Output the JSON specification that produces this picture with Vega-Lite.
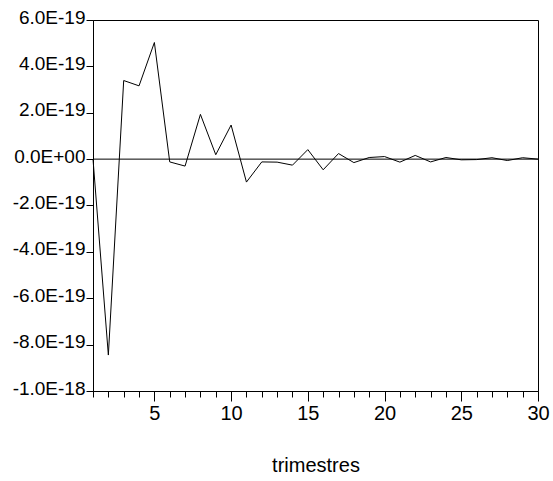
{
  "$schema": "https://vega.github.io/schema/vega-lite/v6.json",
  "width": 445,
  "height": 371,
  "autosize": {"type": "none"},
  "padding": {"left": 93, "top": 20, "right": 15, "bottom": 90},
  "background": "white",
  "config": {
    "view": {"stroke": "black", "strokeWidth": 1},
    "axis": {
      "grid": false,
      "domainColor": "black",
      "domainWidth": 1,
      "tickColor": "black",
      "tickWidth": 1,
      "labelColor": "black",
      "titleColor": "black",
      "labelFont": "Liberation Sans",
      "titleFont": "Liberation Sans"
    }
  },
  "data": {
    "values": [
      {"t": 1, "v": 0},
      {"t": 2, "v": -8.45e-19},
      {"t": 3, "v": 3.39e-19},
      {"t": 4, "v": 3.16e-19},
      {"t": 5, "v": 5.03e-19},
      {"t": 6, "v": -0.12e-19},
      {"t": 7, "v": -0.3e-19},
      {"t": 8, "v": 1.93e-19},
      {"t": 9, "v": 0.19e-19},
      {"t": 10, "v": 1.47e-19},
      {"t": 11, "v": -0.99e-19},
      {"t": 12, "v": -0.12e-19},
      {"t": 13, "v": -0.13e-19},
      {"t": 14, "v": -0.26e-19},
      {"t": 15, "v": 0.41e-19},
      {"t": 16, "v": -0.46e-19},
      {"t": 17, "v": 0.24e-19},
      {"t": 18, "v": -0.15e-19},
      {"t": 19, "v": 0.07e-19},
      {"t": 20, "v": 0.11e-19},
      {"t": 21, "v": -0.13e-19},
      {"t": 22, "v": 0.16e-19},
      {"t": 23, "v": -0.12e-19},
      {"t": 24, "v": 0.07e-19},
      {"t": 25, "v": -0.03e-19},
      {"t": 26, "v": -0.02e-19},
      {"t": 27, "v": 0.06e-19},
      {"t": 28, "v": -0.06e-19},
      {"t": 29, "v": 0.06e-19},
      {"t": 30, "v": 0}
    ]
  },
  "layer": [
    {
      "mark": {"type": "line", "color": "black", "strokeWidth": 1},
      "encoding": {
        "x": {
          "field": "t",
          "type": "quantitative",
          "scale": {"domain": [1, 30], "nice": false, "zero": false},
          "axis": {
            "values": [1,2,3,4,5,6,7,8,9,10,11,12,13,14,15,16,17,18,19,20,21,22,23,24,25,26,27,28,29,30],
            "labelExpr": "datum.value % 5 === 0 ? datum.label : ''",
            "labelOverlap": false,
            "labelFlush": false,
            "labelBound": false,
            "tickSize": {"condition": {"test": "datum.value % 5 === 0", "value": 10}, "value": 6},
            "labelFontSize": 20,
            "labelPadding": 2,
            "title": "trimestres",
            "titleFontSize": 20,
            "titleFontWeight": "normal",
            "titlePadding": 32
          }
        },
        "y": {
          "field": "v",
          "type": "quantitative",
          "scale": {"domain": [-1e-18, 6e-19], "nice": false, "zero": false},
          "axis": {
            "values": [-1e-18, -8e-19, -6e-19, -4e-19, -2e-19, 0, 2e-19, 4e-19, 6e-19],
            "labelExpr": "datum.value === 0 ? '0.0E+00' : replace(upper(format(datum.value, '.1e')), '\u2212', '-')",
            "tickSize": 7,
            "labelPadding": 1,
            "labelFontSize": 19,
            "labelOffset": -3,
            "title": null
          }
        }
      }
    },
    {
      "data": {"values": [{"z": 0}]},
      "mark": {"type": "rule", "color": "black", "strokeWidth": 1},
      "encoding": {"y": {"field": "z", "type": "quantitative"}}
    }
  ]
}
